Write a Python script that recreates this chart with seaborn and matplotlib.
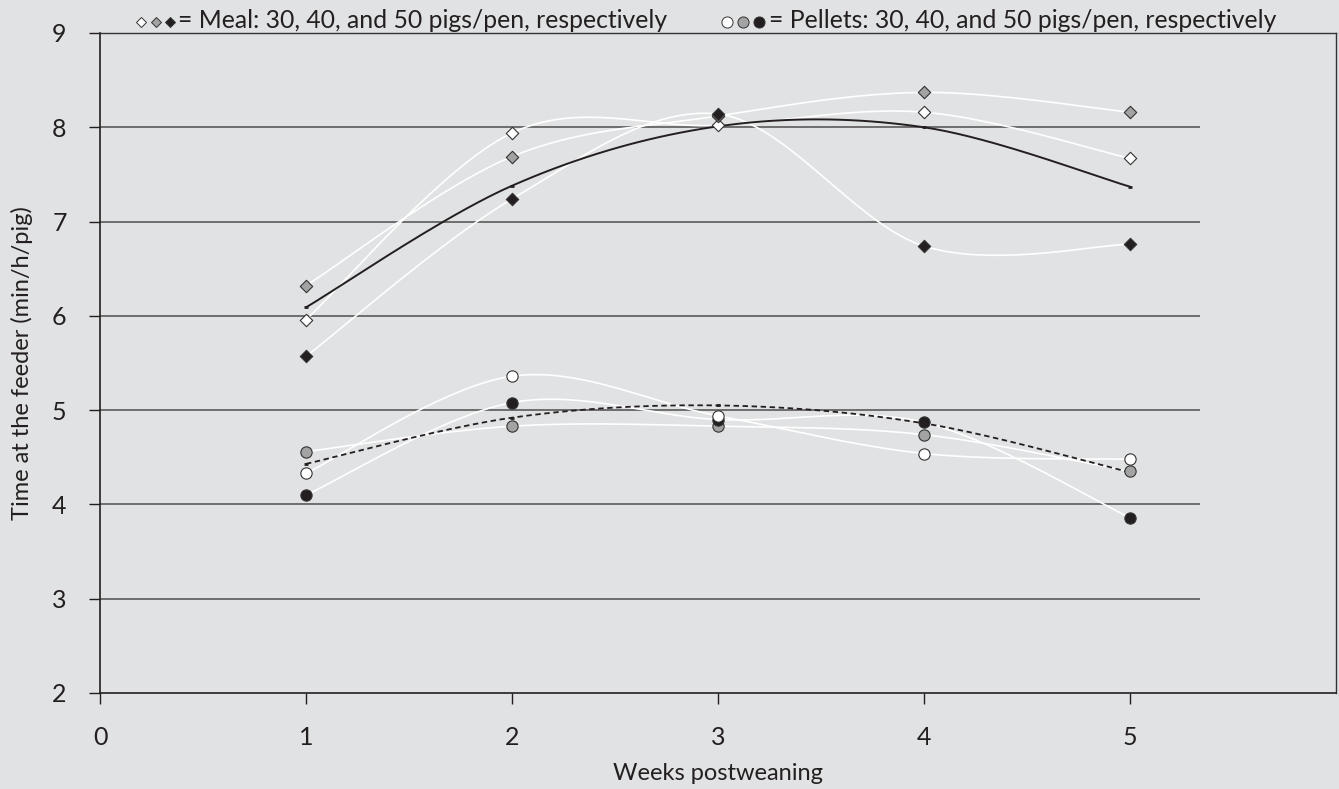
import numpy as np
import pandas as pd
import seaborn as sns
import matplotlib.pyplot as plt

# Data
weeks = [1, 2, 3, 4, 5]
meal_30 = [5.96, 7.94, 8.02, 8.16, 7.67]
meal_40 = [6.32, 7.69, 8.12, 8.37, 8.16]
meal_50 = [5.57, 7.24, 8.14, 6.74, 6.76]
meal_mean = [6.09, 7.38, 8.01, 8.00, 7.37]
pellet_30 = [4.33, 5.36, 4.94, 4.54, 4.48]
pellet_40 = [4.56, 4.83, 4.83, 4.74, 4.35]
pellet_50 = [4.10, 5.08, 4.90, 4.87, 3.86]
pellet_mean = [4.43, 4.92, 5.05, 4.86, 4.34]

x_ticks = [0, 1, 2, 3, 4, 5]
y_ticks = [2, 3, 4, 5, 6, 7, 8, 9]

BG = '#e1e2e3'
DARK = '#231f20'
GREY = '#a3a3a3'


def smooth(xs, ys, n=40):
    # Excel-style smoothed line (cubic bezier, Catmull-Rom control points)
    p = np.column_stack([xs, ys]).astype(float)
    p_ext = np.vstack([p[0], p, p[-1]])
    out = []
    t = np.linspace(0, 1, n)[:, None]
    for i in range(len(p) - 1):
        p0, p1 = p_ext[i + 1], p_ext[i + 2]
        c1 = p0 + (p_ext[i + 2] - p_ext[i]) / 6
        c2 = p1 - (p_ext[i + 3] - p_ext[i + 1]) / 6
        seg = ((1 - t) ** 3) * p0 + 3 * ((1 - t) ** 2) * t * c1 + 3 * (1 - t) * t ** 2 * c2 + t ** 3 * p1
        out.append(seg if i == 0 else seg[1:])
    seg = np.vstack(out)
    return pd.DataFrame({'week': seg[:, 0], 'time': seg[:, 1]})


sns.set_style('white', {'axes.facecolor': BG, 'figure.facecolor': BG})
plt.rcParams['font.family'] = ['Lato', 'DejaVu Sans']
plt.rcParams['text.color'] = DARK

fig = plt.figure(figsize=(13.39, 7.89), dpi=100)
ax = fig.add_axes([100 / 1339, 96 / 789, 1236 / 1339, 660 / 789])

# horizontal gridlines (stop short of the right frame)
ax.hlines(y_ticks[1:-1], 0, 5.34, color='#5a5a5a', lw=1.2, zorder=1)

# thin white smoothed lines for each group
for series in [meal_30, meal_40, meal_50, pellet_30, pellet_40, pellet_50]:
    sns.lineplot(data=smooth(weeks, series), x='week', y='time', sort=False,
                 estimator=None, color='white', lw=1.2, ax=ax, zorder=2)

# mean curves
sns.lineplot(data=smooth(weeks, meal_mean), x='week', y='time', sort=False,
             estimator=None, color=DARK, lw=1.4, ax=ax, zorder=3)
sns.lineplot(data=smooth(weeks, pellet_mean), x='week', y='time', sort=False,
             estimator=None, color=DARK, lw=1.3, ls=(0, (3, 2)), ax=ax, zorder=3)
ax.plot(weeks, meal_mean, ls='none', marker='_', ms=3, mew=2, color=DARK, zorder=3)
ax.plot(weeks, pellet_mean, ls='none', marker='_', ms=3, mew=2, color=DARK, zorder=3)

# markers
for series, fc in [(meal_30, 'white'), (meal_40, GREY), (meal_50, DARK)]:
    sns.scatterplot(x=weeks, y=series, marker='D', s=40, color=fc,
                    edgecolor='#333333', linewidth=0.8, ax=ax, zorder=4)
for series, fc in [(pellet_40, GREY), (pellet_50, DARK), (pellet_30, 'white')]:
    sns.scatterplot(x=weeks, y=series, marker='o', s=66, color=fc,
                    edgecolor='#333333', linewidth=0.8, ax=ax, zorder=4)

ax.set_xlim(0, 6)
ax.set_ylim(2, 9)
ax.set_xticks(x_ticks)
ax.set_yticks(y_ticks)
ax.tick_params(axis='both', direction='out', length=8, width=1, color=DARK,
               labelsize=18, pad=16, labelcolor=DARK, bottom=True, left=True)
for side in ['left', 'bottom']:
    ax.spines[side].set_color(DARK)
    ax.spines[side].set_linewidth(1.2)
for side in ['top', 'right']:
    ax.spines[side].set_visible(True)
    ax.spines[side].set_color('#333333')
    ax.spines[side].set_linewidth(1.0)

ax.set_xlabel('Weeks postweaning', fontsize=17, labelpad=10, color=DARK)
ax.set_ylabel('Time at the feeder (min/h/pig)', fontsize=17, labelpad=14, color=DARK)

# legend line at top
ty = 1 - 22 / 789
for xp, fc in [(141, 'white'), (156, GREY), (170, DARK)]:
    fig.add_artist(plt.Line2D([xp / 1339], [ty], marker='D', ms=5, mfc=fc,
                              mec='#333333', mew=0.7, transform=fig.transFigure))
for xp, fc in [(727, 'white'), (743, GREY), (759, DARK)]:
    fig.add_artist(plt.Line2D([xp / 1339], [ty], marker='o', ms=8, mfc=fc,
                              mec='#333333', mew=0.7, transform=fig.transFigure))
fig.text(178 / 1339, 1 - 28 / 789, '= Meal: 30, 40, and 50 pigs/pen, respectively',
         fontsize=17.8, va='baseline', ha='left')
fig.text(769 / 1339, 1 - 28 / 789, '= Pellets: 30, 40, and 50 pigs/pen, respectively',
         fontsize=17.8, va='baseline', ha='left')

fig.savefig('out.png', dpi=100, facecolor=BG)
